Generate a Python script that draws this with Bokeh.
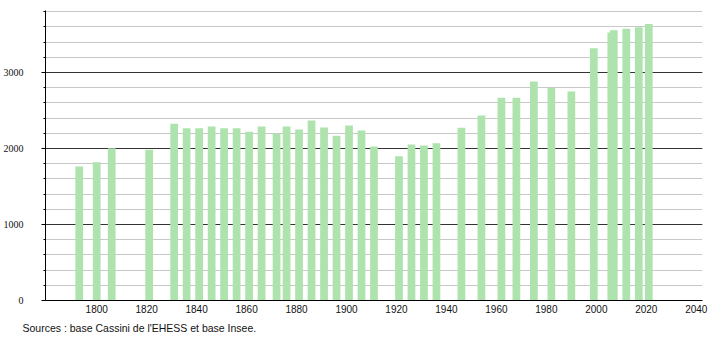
from bokeh.plotting import figure
from bokeh.models import Range1d, SingleIntervalTicker, FixedTicker, Grid, Title
from bokeh.embed import file_html
from bokeh.resources import INLINE

years = [1793, 1800, 1806, 1821, 1831, 1836, 1841, 1846, 1851, 1856, 1861, 1866,
         1872, 1876, 1881, 1886, 1891, 1896, 1901, 1906, 1911, 1921, 1926, 1931,
         1936, 1946, 1954, 1962, 1968, 1975, 1982, 1990, 1999, 2006, 2007, 2012,
         2017, 2021]
population = [1763, 1820, 2004, 1985, 2325, 2268, 2268, 2289, 2268, 2268, 2219, 2289,
              2193, 2289, 2250, 2368, 2276, 2167, 2303, 2237, 2026, 1899, 2053, 2039,
              2070, 2272, 2434, 2667, 2667, 2882, 2798, 2750, 3320, 3525, 3555, 3575,
              3596, 3640]
x_ticks = [1800, 1820, 1840, 1860, 1880, 1900, 1920, 1940, 1960, 1980, 2000, 2020, 2040]
source_text = "Sources : base Cassini de l'EHESS et base Insee."

BAR = "#aee3ae"

p = figure(width=710, height=340, output_backend="svg", toolbar_location=None,
           x_range=Range1d(1779.5, 2042.5), y_range=Range1d(0, 3816),
           min_border_left=44, min_border_right=8, min_border_top=10,
           min_border_bottom=40)
p.outline_line_color = None
p.background_fill_color = "white"
p.border_fill_color = "white"

p.xgrid.visible = False
p.ygrid.ticker = SingleIntervalTicker(interval=200)
p.ygrid.grid_line_color = "#c8c8c8"
p.ygrid.grid_line_width = 1
dark = Grid(dimension=1, ticker=SingleIntervalTicker(interval=1000),
            grid_line_color="#333333", grid_line_width=1)
p.add_layout(dark)

p.vbar(x=years, top=population, width=3.1, fill_color=BAR, line_color=None)

xa = p.xaxis[0]
xa.ticker = FixedTicker(ticks=x_ticks)
xa.major_tick_out = 0
xa.major_tick_in = 0
xa.minor_tick_out = 0
xa.minor_tick_in = 0
xa.axis_line_color = "black"
xa.major_label_standoff = 4
xa.major_label_text_font = "Liberation Sans"
xa.major_label_text_font_size = "10px"
xa.major_label_text_color = "#111111"

ya = p.yaxis[0]
ya.ticker = SingleIntervalTicker(interval=1000, num_minor_ticks=5)
ya.major_tick_out = 4
ya.major_tick_in = 0
ya.minor_tick_out = 2
ya.minor_tick_in = 0
ya.axis_line_color = "black"
ya.major_tick_line_color = "black"
ya.minor_tick_line_color = "black"
ya.major_label_standoff = 18
ya.major_label_text_font = "Liberation Sans Narrow"
ya.major_label_text_font_size = "10px"
ya.major_label_text_color = "#111111"

p.add_layout(Title(text=source_text, align="left", text_font="Liberation Sans",
                   text_font_size="10.5px", text_font_style="normal",
                   text_color="#111111", offset=-23, standoff=8), "below")

open("out.html", "w").write(file_html(p, INLINE))
